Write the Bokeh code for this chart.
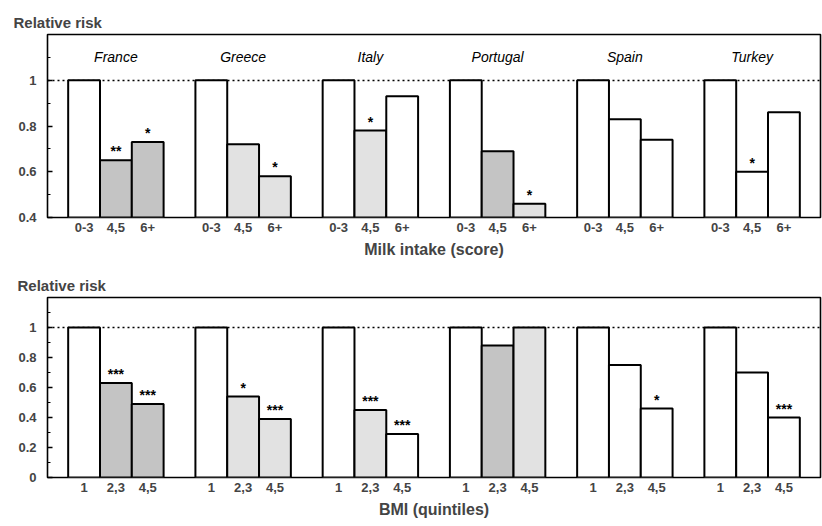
from bokeh.plotting import figure
from bokeh.layouts import column
from bokeh.models import Range1d, FixedTicker, ColumnDataSource
from bokeh.core.properties import value
from bokeh.embed import file_html
from bokeh.resources import INLINE

FONT = "Liberation Sans"

countries = ["France", "Greece", "Italy", "Portugal", "Spain", "Turkey"]

# Panel 1: milk intake (score)
milk_levels = ["0-3", "4,5", "6+"]
milk_low = [1.0, 1.0, 1.0, 1.0, 1.0, 1.0]
milk_mid = [0.65, 0.72, 0.78, 0.69, 0.83, 0.60]
milk_high = [0.73, 0.58, 0.93, 0.46, 0.74, 0.86]
milk_mid_sig = ["**", "", "*", "", "", "*"]
milk_high_sig = ["*", "*", "", "*", "", ""]

# Panel 2: BMI (quintiles)
bmi_levels = ["1", "2,3", "4,5"]
bmi_low = [1.0, 1.0, 1.0, 1.0, 1.0, 1.0]
bmi_mid = [0.63, 0.54, 0.45, 0.88, 0.75, 0.70]
bmi_high = [0.49, 0.39, 0.29, 1.0, 0.46, 0.40]
bmi_mid_sig = ["***", "*", "***", "", "", ""]
bmi_high_sig = ["***", "***", "***", "", "*", "***"]

milk_yticks = [0.4, 0.6, 0.8, 1.0]
milk_ylabels = ["0.4", "0.6", "0.8", "1"]
bmi_yticks = [0.0, 0.2, 0.4, 0.6, 0.8, 1.0]
bmi_ylabels = ["0", "0.2", "0.4", "0.6", "0.8", "1"]

# styles (shading of bars: 0 white, 1 light stipple, 2 darker stipple)
milk_shade = [[0, 2, 2], [0, 1, 1], [0, 1, 0], [0, 2, 1], [0, 0, 0], [0, 0, 0]]
bmi_shade = [[0, 2, 2], [0, 1, 1], [0, 1, 0], [0, 2, 1], [0, 0, 0], [0, 0, 0]]
SHADES = ["#ffffff", "#e2e2e2", "#c4c4c4"]


def panel(levels, low, mid, high, mid_sig, high_sig, shade, yr, yticks, ylabels,
          xlabel, height, border_top, border_bottom, title_offset, show_countries):
    p = figure(width=822, height=height, output_backend="svg", toolbar_location=None,
               x_range=Range1d(-1.15, 23.15), y_range=Range1d(*yr),
               min_border_left=47, min_border_right=2,
               min_border_top=border_top, min_border_bottom=border_bottom)
    p.title.text = "Relative risk"
    p.title.align = "left"
    p.title.offset = title_offset
    p.title.text_font = FONT
    p.title.text_font_size = "15px"
    p.title.text_font_style = "bold"
    p.title.standoff = 8

    xs, tops, fills, labels = [], [], [], []
    sx, sy, st = [], [], []
    for g in range(len(countries)):
        vals = [low[g], mid[g], high[g]]
        sigs = ["", mid_sig[g], high_sig[g]]
        for i in range(3):
            x = g * 4 + i
            xs.append(x)
            tops.append(vals[i])
            fills.append(SHADES[shade[g][i]])
            labels.append(levels[i])
            if sigs[i]:
                sx.append(x)
                sy.append(vals[i])
                st.append(sigs[i])

    p.hspan(y=[1.0], line_color="black", line_width=1.3, line_dash="2 3")
    src = ColumnDataSource(dict(x=xs, top=tops, fill=fills))
    p.vbar(x="x", top="top", bottom=yr[0], width=1.0, source=src,
           fill_color="fill", line_color="black", line_width=2)
    p.text(x=sx, y=sy, text=st, text_align="center", text_baseline="bottom",
           y_offset=-1, text_font=value(FONT), text_font_size="14px",
           text_font_style="bold", text_color="black")
    if show_countries:
        p.text(x=[g * 4 + 1 for g in range(len(countries))], y=[1.1] * len(countries),
               text=countries, text_align="center", text_baseline="middle",
               text_font=value(FONT), text_font_size="14px",
               text_font_style="italic", text_color="black")

    p.grid.visible = False
    p.outline_line_color = "black"
    p.outline_line_width = 1.6

    xa = p.xaxis[0]
    xa.ticker = FixedTicker(ticks=xs)
    xa.major_label_overrides = {x: l for x, l in zip(xs, labels)}
    xa.major_tick_line_color = None
    xa.minor_tick_line_color = None
    xa.major_tick_in = 0
    xa.major_tick_out = 0
    xa.minor_tick_in = 0
    xa.minor_tick_out = 0
    xa.axis_line_color = None
    xa.major_label_standoff = 5
    xa.major_label_text_font = FONT
    xa.major_label_text_font_size = "13px"
    xa.major_label_text_font_style = "bold"
    xa.axis_label = xlabel
    xa.axis_label_text_font = FONT
    xa.axis_label_text_font_size = "16px"
    xa.axis_label_text_font_style = "bold"
    xa.axis_label_standoff = 6

    ya = p.yaxis[0]
    minor = [round(yr[0] + 0.1 * k, 2) for k in range(int(round((yr[1] - yr[0]) / 0.1)) + 1)]
    ya.ticker = FixedTicker(ticks=yticks, minor_ticks=minor)
    ya.major_label_overrides = {t: l for t, l in zip(yticks, ylabels)}
    ya.axis_line_color = None
    ya.major_tick_in = 5
    ya.major_tick_out = 0
    ya.minor_tick_in = 3
    ya.minor_tick_out = 0
    ya.major_tick_line_width = 1.5
    ya.major_label_standoff = 11
    ya.major_label_text_font = FONT
    ya.major_label_text_font_size = "13px"
    ya.major_label_text_font_style = "bold"
    return p


p1 = panel(milk_levels, milk_low, milk_mid, milk_high, milk_mid_sig, milk_high_sig,
           milk_shade, (0.4, 1.2), milk_yticks, milk_ylabels, "Milk intake (score)",
           264, 34, 47, -34, True)
p2 = panel(bmi_levels, bmi_low, bmi_mid, bmi_high, bmi_mid_sig, bmi_high_sig,
           bmi_shade, (0.0, 1.2), bmi_yticks, bmi_ylabels, "BMI (quintiles)",
           262, 33, 49, -30, False)

layout = column(p1, p2, spacing=0)
open("out.html", "w").write(file_html(layout, INLINE))
